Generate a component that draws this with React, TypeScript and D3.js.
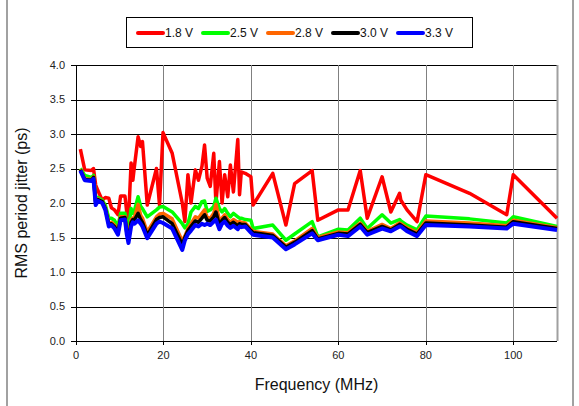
import React from "react";
import * as d3 from "d3";

// measurement frequencies (MHz), shared by every supply voltage
const freq = [
  1, 2, 3.5, 4, 4.5, 5, 6, 6.7, 7.5, 8.1, 8.8, 9.6, 10.2, 11.2, 11.6, 12, 12.6, 13, 13.4, 14.2,
  14.8, 15.2, 16.3, 18.4, 19.1, 19.9, 22, 24.3, 24.9, 25.6, 26.3, 27.3, 28, 28.8, 29.4, 30, 30.7,
  31.5, 32, 32.8, 33.4, 34, 34.7, 35.3, 36, 37, 37.4, 37.8, 38.7, 40, 40.5, 45, 48, 50, 54, 55.3,
  60, 62.2, 65, 66.6, 70, 72, 74, 74.3, 75.7, 78, 80, 90, 98.5, 100, 110,
];

const v18 = [
  2.78, 2.48, 2.47, 2.5, 2.26, 2.18, 2.04, 2.08, 2.07, 1.93, 1.9, 1.83, 2.1, 2.1, 1.87, 1.75, 2.58, 2.33, 2.55, 2.96,
  2.82, 2.89, 1.97, 2.5, 1.97, 3.02, 2.72, 2.0, 1.73, 2.41, 2.0, 2.48, 2.33, 2.53, 2.84, 2.36, 2.24,
  2.72, 2.0, 2.6, 2.0, 2.41, 2.09, 2.55, 2.16, 2.92, 2.12, 2.45, 2.43, 2.38, 1.97, 2.43, 1.68, 2.28, 2.47, 1.75,
  1.9, 1.9, 2.47, 1.78, 2.38, 1.87, 2.14, 2.04, 1.9, 1.73, 2.41, 2.14, 1.83, 2.41, 1.78,
];
const v25 = [
  2.5, 2.4, 2.37, 2.4, 2.08, 2.08, 2.04, 1.97, 1.78, 1.78, 1.75, 1.66, 1.85, 1.85, 1.7, 1.61, 1.92, 1.85, 1.9, 2.09,
  1.95, 1.92, 1.8, 1.9, 1.94, 1.95, 1.87, 1.7, 1.64, 1.7, 1.87, 1.95, 1.92, 2.02, 2.03, 1.88, 1.9,
  1.95, 2.07, 1.92, 1.87, 1.92, 1.85, 1.8, 1.85, 1.8, 1.78, 1.78, 1.76, 1.75, 1.63, 1.68, 1.46, 1.55, 1.73, 1.51,
  1.62, 1.61, 1.78, 1.63, 1.83, 1.71, 1.76, 1.74, 1.68, 1.61, 1.81, 1.77, 1.71, 1.8, 1.66,
];
const v28 = [
  2.49, 2.35, 2.34, 2.38, 2.02, 2.06, 2.02, 1.93, 1.71, 1.72, 1.68, 1.59, 1.8, 1.8, 1.6, 1.5, 1.76, 1.78, 1.8, 1.98,
  1.82, 1.78, 1.58, 1.8, 1.84, 1.85, 1.77, 1.45, 1.52, 1.63, 1.7, 1.8, 1.78, 1.85, 1.9, 1.79, 1.78,
  1.85, 1.98, 1.75, 1.78, 1.83, 1.76, 1.72, 1.76, 1.72, 1.73, 1.72, 1.71, 1.62, 1.59, 1.55, 1.38, 1.45, 1.63, 1.5,
  1.58, 1.57, 1.71, 1.59, 1.69, 1.63, 1.71, 1.7, 1.64, 1.57, 1.74, 1.71, 1.67, 1.75, 1.64,
];
const v30 = [
  2.48, 2.34, 2.33, 2.37, 2.0, 2.05, 2.02, 1.92, 1.69, 1.7, 1.66, 1.57, 1.78, 1.79, 1.58, 1.46, 1.72, 1.76, 1.76, 1.85,
  1.76, 1.72, 1.53, 1.76, 1.79, 1.8, 1.7, 1.4, 1.5, 1.6, 1.66, 1.74, 1.72, 1.78, 1.83, 1.75, 1.74,
  1.8, 1.87, 1.68, 1.75, 1.79, 1.72, 1.69, 1.72, 1.67, 1.7, 1.69, 1.69, 1.6, 1.57, 1.53, 1.36, 1.43, 1.6, 1.48,
  1.56, 1.55, 1.69, 1.57, 1.66, 1.61, 1.69, 1.68, 1.62, 1.55, 1.71, 1.68, 1.65, 1.73, 1.63,
];
const v33 = [
  2.47, 2.33, 2.32, 2.35, 1.97, 2.03, 2.0, 1.9, 1.66, 1.68, 1.63, 1.54, 1.75, 1.76, 1.55, 1.42, 1.66, 1.72, 1.7, 1.75,
  1.7, 1.66, 1.49, 1.7, 1.73, 1.71, 1.63, 1.32, 1.46, 1.55, 1.6, 1.68, 1.66, 1.7, 1.68, 1.7, 1.68,
  1.73, 1.76, 1.62, 1.7, 1.73, 1.67, 1.64, 1.67, 1.62, 1.66, 1.65, 1.66, 1.57, 1.54, 1.5, 1.33, 1.4, 1.56, 1.46,
  1.54, 1.52, 1.66, 1.54, 1.63, 1.59, 1.66, 1.66, 1.59, 1.52, 1.68, 1.66, 1.63, 1.7, 1.61,
];

const seriesNames = ["1.8 V", "2.5 V", "2.8 V", "3.0 V", "3.3 V"];
const seriesValues = [v18, v25, v28, v30, v33];
const seriesColors = ["#ff0000", "#00ff00", "#ff6600", "#000000", "#0000ff"];

const xTicks = [0, 20, 40, 60, 80, 100];
const yTicks = [0, 0.5, 1, 1.5, 2, 2.5, 3, 3.5, 4];

export default function App() {
  const W = 579;
  const H = 406;
  const m = { left: 76, right: 557, top: 65, bottom: 341 };

  const x = d3.scaleLinear().domain([0, 110]).range([m.left, m.right]);
  const y = d3.scaleLinear().domain([0, 4]).range([m.bottom, m.top]);

  const line = d3
    .line<number>()
    .x((_, i) => x(freq[i]))
    .y((d) => y(d));

  const font = "'Liberation Sans', Arial, sans-serif";

  return (
    <svg
      width={W}
      height={H}
      style={{ position: "absolute", left: 0, top: 0, background: "#fff" }}
      fontFamily={font}
    >
      {/* chart border */}
      <rect x={7} y={-2} width={566} height={H + 4} fill="#fff" stroke="#444" strokeWidth={1} />

      {/* horizontal grid */}
      {yTicks.map((t) => (
        <line key={"hy" + t} x1={m.left} x2={m.right} y1={Math.round(y(t)) + 0.5} y2={Math.round(y(t)) + 0.5} stroke="#000" strokeWidth={1} />
      ))}
      {/* vertical grid */}
      {xTicks.slice(1).map((t) => (
        <line key={"vx" + t} x1={Math.round(x(t)) + 0.5} x2={Math.round(x(t)) + 0.5} y1={m.top} y2={m.bottom} stroke="#808080" strokeWidth={1} />
      ))}
      <line x1={m.right + 0.5} x2={m.right + 0.5} y1={m.top} y2={m.bottom} stroke="#a0a0a0" strokeWidth={2} />

      {/* axes */}
      <line x1={m.left + 0.5} x2={m.left + 0.5} y1={m.top} y2={m.bottom} stroke="#000" />
      <line x1={m.left} x2={m.right} y1={m.bottom + 0.5} y2={m.bottom + 0.5} stroke="#000" />
      {yTicks.map((t) => (
        <g key={"yt" + t}>
          <line x1={m.left - 5} x2={m.left} y1={Math.round(y(t)) + 0.5} y2={Math.round(y(t)) + 0.5} stroke="#000" />
          <text x={m.left - 11} y={y(t)} dy="0.35em" textAnchor="end" fontSize={11} fill="#222">
            {t.toFixed(1)}
          </text>
        </g>
      ))}
      {xTicks.map((t) => (
        <g key={"xt" + t}>
          <line x1={Math.round(x(t)) + 0.5} x2={Math.round(x(t)) + 0.5} y1={m.bottom} y2={m.bottom + 4} stroke="#000" />
          <text x={x(t)} y={m.bottom + 18} textAnchor="middle" fontSize={11} fill="#222">
            {t}
          </text>
        </g>
      ))}

      {/* axis titles */}
      <text
        transform={`translate(27, ${(m.top + m.bottom) / 2}) rotate(-90)`}
        textAnchor="middle"
        fontSize={16}
        fill="#111"
      >
        RMS period jitter (ps)
      </text>
      <text x={(m.left + m.right) / 2} y={390} textAnchor="middle" fontSize={16} fill="#111">
        Frequency (MHz)
      </text>

      {/* series */}
      <g clipPath="url(#plotClip)">
        {seriesValues.map((vals, i) => (
          <path
            key={seriesNames[i]}
            d={line(vals) || ""}
            fill="none"
            stroke={seriesColors[i]}
            strokeWidth={i === 4 ? 4 : 3.5}
            strokeLinejoin="round"
          />
        ))}
      </g>
      <defs>
        <clipPath id="plotClip">
          <rect x={m.left} y={m.top - 4} width={m.right - m.left + 1} height={m.bottom - m.top + 4} />
        </clipPath>
      </defs>

      {/* legend */}
      <rect x={126.5} y={17.5} width={346} height={30} fill="#fff" stroke="#000" strokeWidth={1} />
      {seriesNames.map((name, i) => (
        <g key={"lg" + name} transform={`translate(${138 + i * 65}, 33)`}>
          <line x1={0} x2={25} y1={0} y2={0} stroke={seriesColors[i]} strokeWidth={4} strokeLinecap="round" />
          <text x={27} y={0} dy="0.35em" fontSize={12} fill="#111">
            {name}
          </text>
        </g>
      ))}
    </svg>
  );
}
